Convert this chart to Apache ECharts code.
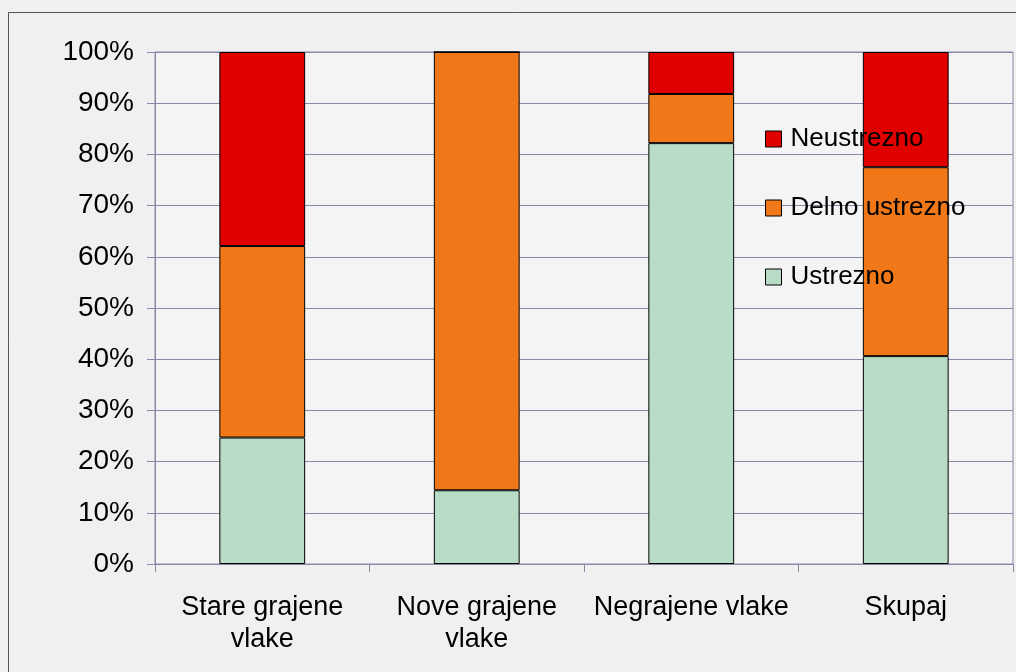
<!DOCTYPE html>
<html>
<head>
<meta charset="utf-8">
<script src="https://cdn.jsdelivr.net/npm/echarts@6/dist/echarts.min.js"></script>
<style>
  html, body { margin: 0; padding: 0; background: #f0f0f0; }
  #chart { width: 1016px; height: 672px; }
</style>
</head>
<body>
<div id="chart"></div>
<script>
// categories and shares (percent)
const categories = ['Stare grajene\nvlake', 'Nove grajene\nvlake', 'Negrajene vlake', 'Skupaj']
const ustrezno = [24.7, 14.4, 82.2, 40.6]
const delnoUstrezno = [37.4, 85.6, 9.6, 36.9]
const neustrezno = [37.9, 0, 8.2, 22.5]

const font = 'Liberation Sans, Arial, sans-serif'
const gridColor = '#8a88a8'

const chart = echarts.init(document.getElementById('chart'))

const barSeries = (name, data, color) => ({
  name,
  type: 'bar',
  stack: 'total',
  barWidth: '40%',
  itemStyle: { color, borderColor: '#000', borderWidth: 1 },
  emphasis: { disabled: true },
  data
})

const option = {
  backgroundColor: '#f0f0f0',
  animation: false,
  textStyle: { fontFamily: font },
  graphic: [
    {
      type: 'rect',
      shape: { x: 8.5, y: 12.5, width: 1030, height: 700 },
      style: { fill: 'none', stroke: '#555', lineWidth: 1 },
      silent: true
    }
  ],
  grid: {
    left: 155,
    right: 3,
    top: 52,
    bottom: 108,
    show: true,
    backgroundColor: '#f4f4f4',
    borderColor: gridColor,
    borderWidth: 1
  },
  legend: {
    orient: 'vertical',
    left: 765,
    top: 126,
    padding: 0,
    icon: 'rect',
    itemWidth: 16,
    itemHeight: 16,
    itemGap: 43,
    data: ['Neustrezno', 'Delno ustrezno', 'Ustrezno'],
    textStyle: { fontFamily: font, fontSize: 26, color: '#000', padding: [0, 0, 0, 4] },
    itemStyle: { borderColor: '#000', borderWidth: 1 }
  },
  xAxis: {
    type: 'category',
    data: categories,
    axisLine: { lineStyle: { color: gridColor, width: 1 } },
    axisTick: { show: true, length: 8, lineStyle: { color: gridColor } },
    axisLabel: {
      interval: 0,
      color: '#000',
      fontFamily: font,
      fontSize: 27,
      lineHeight: 32,
      margin: 28
    },
    splitLine: { show: false }
  },
  yAxis: {
    type: 'value',
    min: 0,
    max: 100,
    interval: 10,
    axisLine: { show: true, lineStyle: { color: gridColor, width: 1 } },
    axisTick: { show: true, length: 8, lineStyle: { color: gridColor } },
    axisLabel: {
      color: '#000',
      fontFamily: font,
      fontSize: 28,
      margin: 21,
      formatter: '{value}%'
    },
    splitLine: { lineStyle: { color: gridColor, width: 1 } }
  },
  series: [
    barSeries('Ustrezno', ustrezno, '#b9dcc6'),
    barSeries('Delno ustrezno', delnoUstrezno, '#f07818'),
    barSeries('Neustrezno', neustrezno, '#e00000')
  ]
}

chart.setOption(option)
</script>
</body>
</html>
